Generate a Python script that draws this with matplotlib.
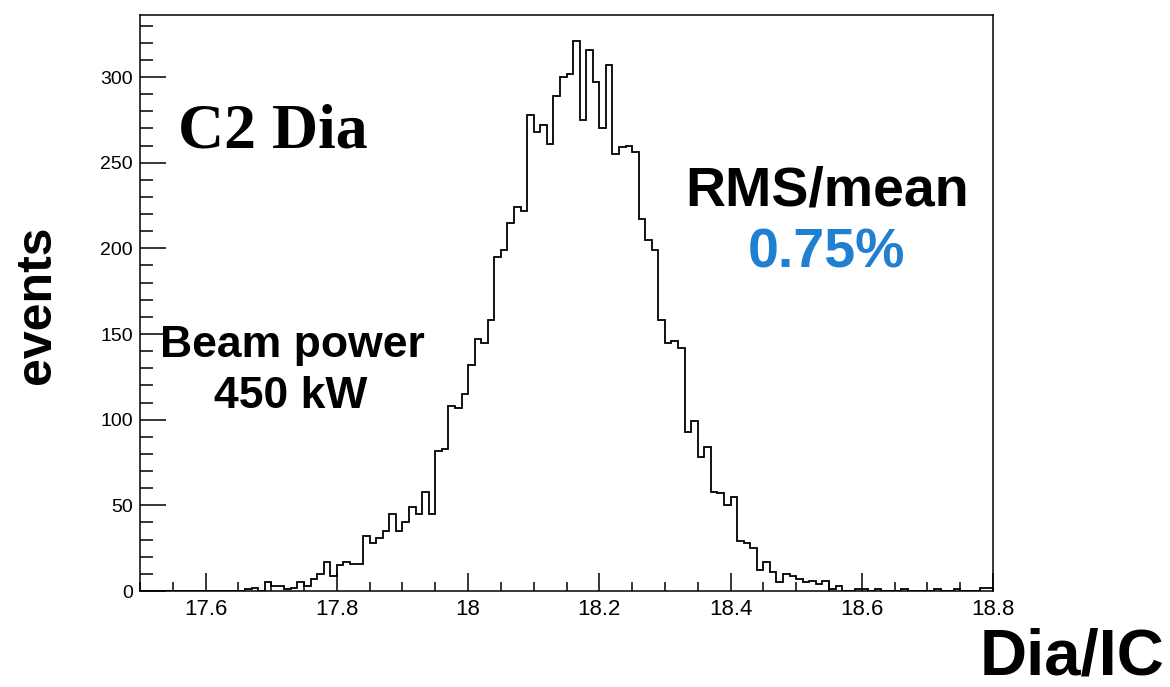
import numpy as np
import matplotlib
matplotlib.use('Agg')
import matplotlib.pyplot as plt
from matplotlib.ticker import MultipleLocator, FuncFormatter

plt.rcParams['font.family'] = 'sans-serif'
plt.rcParams['font.sans-serif'] = ['Liberation Sans', 'DejaVu Sans']

# histogram binning: 130 bins of 0.01 from 17.5 to 18.8
x_lo, x_hi, n_bins = 17.5, 18.8, 130

# bin contents (bin 0 = 17.50-17.51)
counts = [
    0, 0, 0, 0, 0, 0, 0, 0, 0, 0,
    0, 0, 0, 0, 0, 0, 1, 2, 0, 5,
    3, 3, 1, 2, 5, 3, 7, 10, 17, 9,
    15, 17, 16, 16, 32, 28, 31, 35, 45, 35,
    40, 49, 45, 58, 45, 82, 83, 108, 107, 115,
    132, 147, 145, 158, 195, 199, 215, 224, 222, 278,
    268, 272, 261, 289, 300, 302, 321, 275, 316, 297,
    270, 307, 255, 259, 260, 256, 217, 205, 199, 158,
    145, 146, 142, 93, 99, 78, 84, 58, 57, 50,
    55, 29, 28, 25, 12, 17, 11, 5, 10, 9,
    7, 5, 6, 4, 6, 1, 3, 0, 0, 1,
    1, 0, 1, 0, 0, 0, 1, 0, 0, 0,
    0, 1, 0, 0, 1, 0, 0, 0, 2, 2,
]
edges = np.linspace(x_lo, x_hi, n_bins + 1)

W, H = 1170, 687
fig = plt.figure(figsize=(W / 100, H / 100), dpi=100)
ax = fig.add_axes([140 / W, 96 / H, 853 / W, 576 / H])

ax.stairs(counts, edges, color='black', linewidth=1.3)

ax.set_xlim(x_lo, x_hi)
ax.set_ylim(0, 336.2)

ax.xaxis.set_major_locator(MultipleLocator(0.2))
ax.xaxis.set_minor_locator(MultipleLocator(0.05))
ax.yaxis.set_major_locator(MultipleLocator(50))
ax.yaxis.set_minor_locator(MultipleLocator(10))
ax.xaxis.set_major_formatter(FuncFormatter(lambda v, p: '%g' % round(v, 2)))

ax.tick_params(which='both', direction='in', top=False, right=False,
               color='black', width=1.1)
ax.tick_params(axis='x', which='major', length=12.7, labelsize=16, pad=6)
ax.tick_params(axis='x', which='minor', length=6.5)
ax.tick_params(axis='y', which='major', length=18.5, labelsize=14, pad=5)
ax.tick_params(axis='y', which='minor', length=9.3)
for s in ax.spines.values():
    s.set_linewidth(1.1)
    s.set_color('black')


def px(x, y):
    return x / W, 1 - y / H


# axis titles
fig.text(*px(37, 305), 'events', rotation=90, ha='center', va='center',
         fontsize=36, fontweight='bold')
fig.text(*px(1165, 674), 'Dia/IC', ha='right', va='baseline',
         fontsize=47, fontweight='bold')

# annotations
fig.text(*px(178, 148), 'C2 Dia', ha='left', va='baseline', fontsize=46,
         fontweight='bold', family='Liberation Serif')
fig.text(*px(827, 205), 'RMS/mean', ha='center', va='baseline',
         fontsize=40, fontweight='bold')
fig.text(*px(826, 268), '0.75%', ha='center', va='baseline',
         fontsize=40, fontweight='bold', color='#1f7fd0')
fig.text(*px(292, 357), 'Beam power', ha='center', va='baseline',
         fontsize=32, fontweight='bold')
fig.text(*px(291, 408), '450 kW', ha='center', va='baseline',
         fontsize=32, fontweight='bold')

fig.savefig('out.png', dpi=100, facecolor='white')
